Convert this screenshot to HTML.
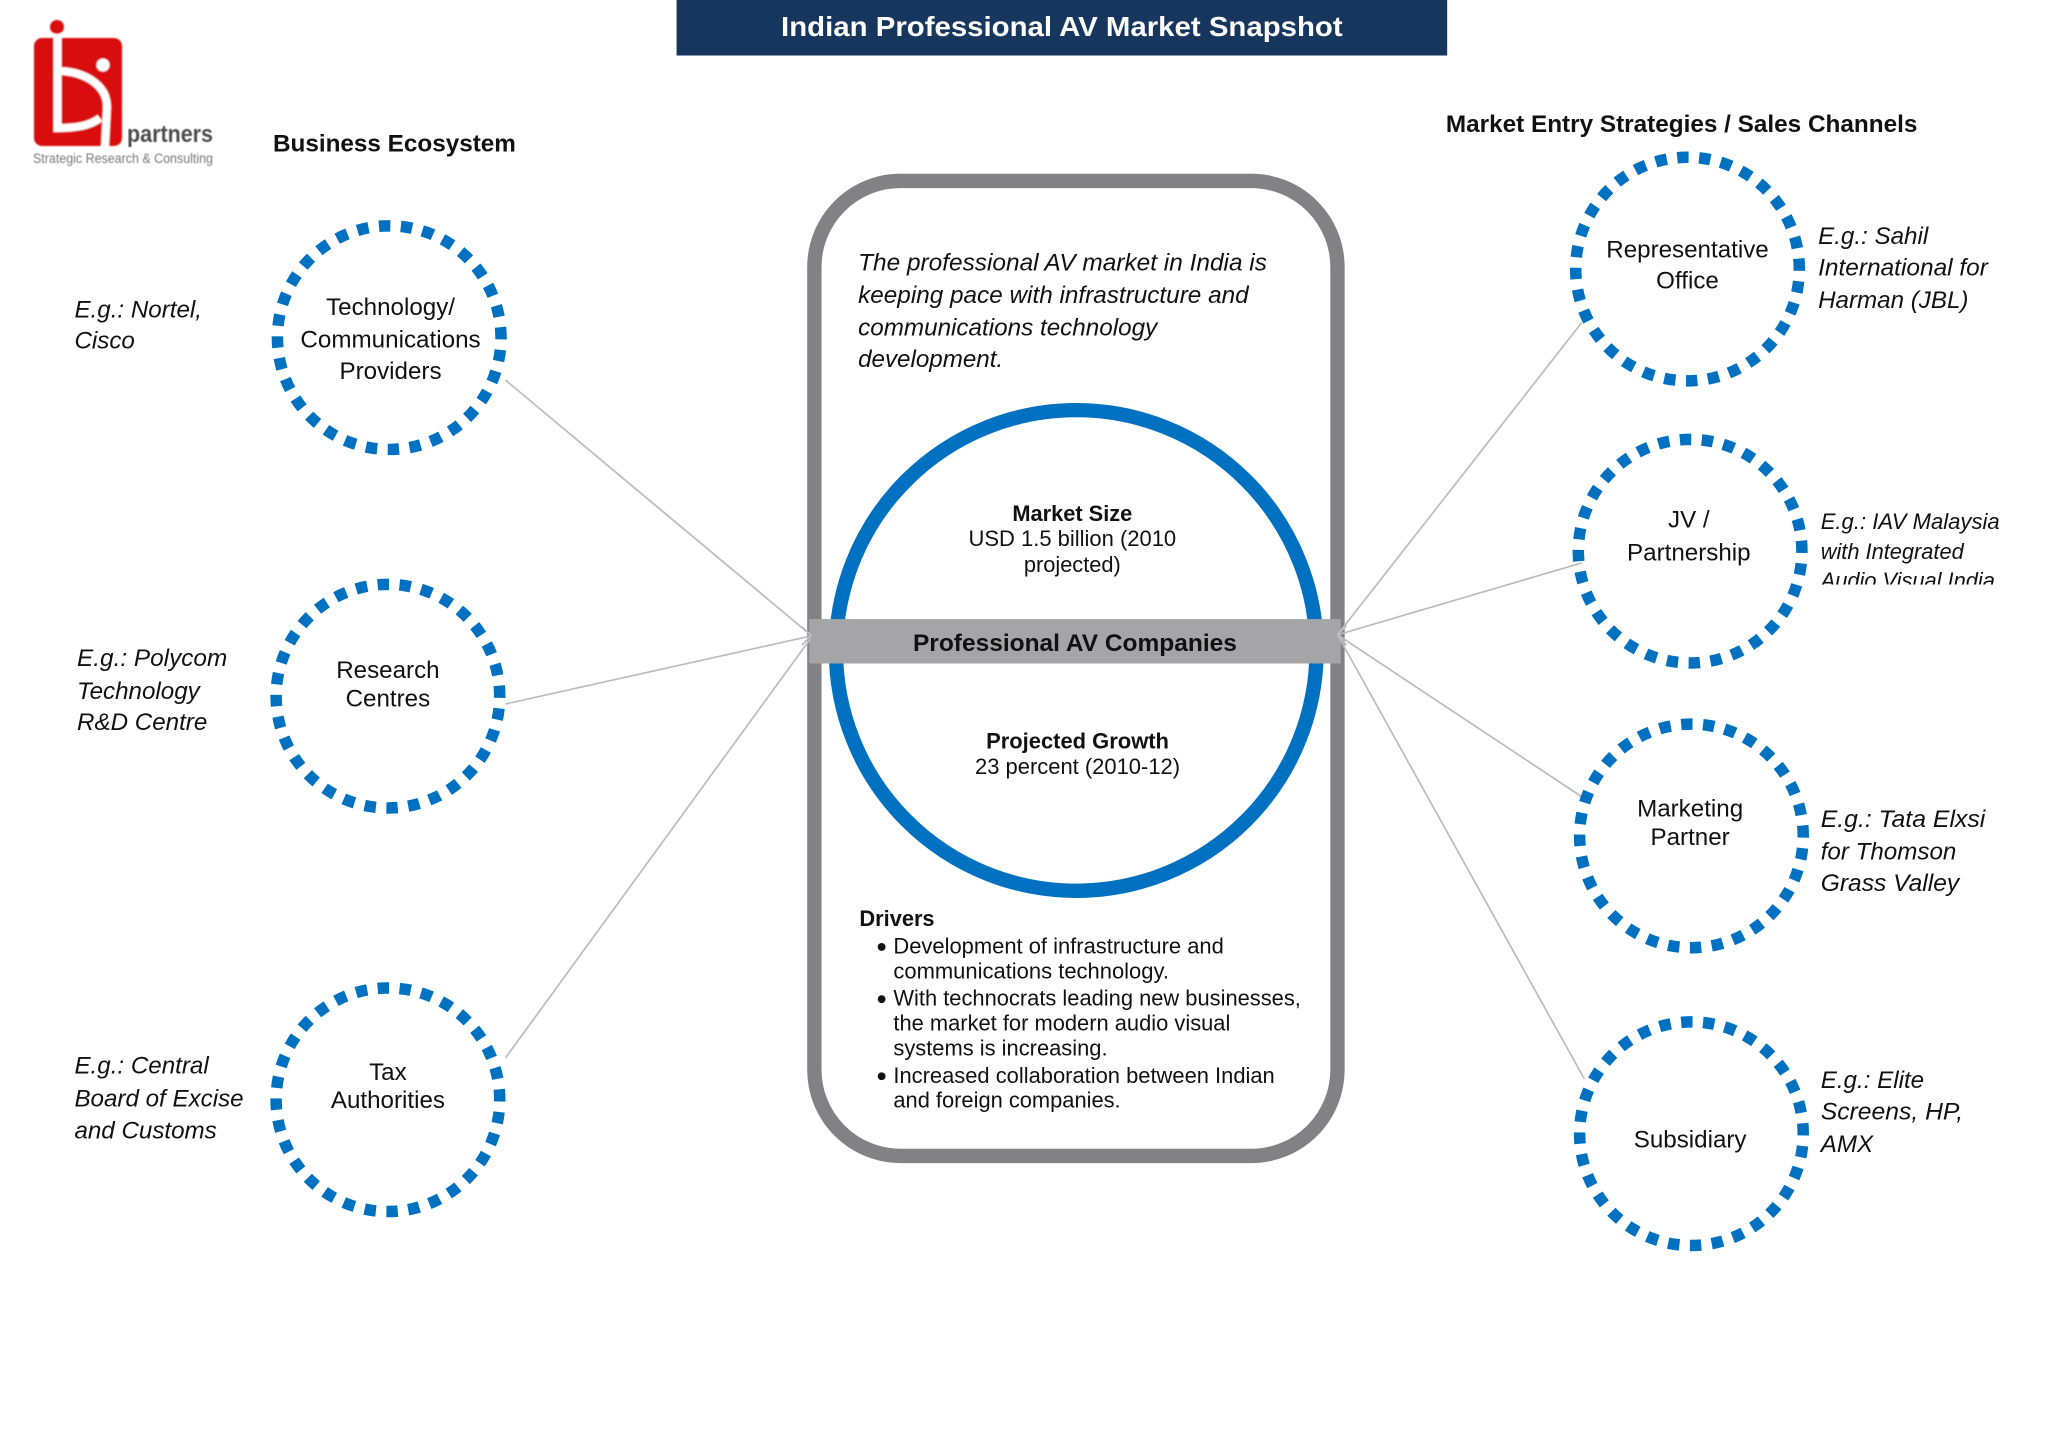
<!DOCTYPE html>
<html>
<head>
<meta charset="utf-8">
<title>Indian Professional AV Market Snapshot</title>
<style>
html,body{margin:0;padding:0;background:#fff;width:2048px;height:1448px;overflow:hidden}
svg{display:block}
text{font-family:"Liberation Sans",sans-serif;fill:#111}
.n{font-size:18.5px;text-anchor:middle}
.i{font-size:18.5px;font-style:italic}
.s{font-size:16.7px}
.m{font-size:16.7px;text-anchor:middle}
.b{font-weight:bold}
.d{fill:none;stroke:#0070c0;stroke-width:8.8;stroke-dasharray:.52 .48;stroke-dashoffset:.44}
.l{stroke:#bcbbbd;stroke-width:1.3;fill:none}
</style>
</head>
<body>
<svg width="2048" height="1448" viewBox="0 0 2048 1448" xmlns="http://www.w3.org/2000/svg">
<defs>
<filter id="bl" x="-5%" y="-5%" width="110%" height="110%"><feGaussianBlur stdDeviation="0.9"/></filter>
<filter id="bt" x="-5%" y="-20%" width="110%" height="140%"><feGaussianBlur stdDeviation="0.6"/></filter>
<clipPath id="cl"><rect x="1380" y="430" width="170" height="17.5"/></clipPath>
</defs>
<rect width="2048" height="1448" fill="#fff"/>

<!-- logo -->
<g filter="url(#bl)">
<rect x="34" y="38" width="88" height="108" rx="8" fill="#d90d0d"/>
<path d="M57.500 33V128C75 128 90 126 100 118" fill="none" stroke="#fff" stroke-width="8"/>
<path d="M60 71C85 72 107 85 107 107L105 147" fill="none" stroke="#fff" stroke-width="8"/>
<circle cx="57" cy="27" r="7" fill="#d90d0d"/>
<circle cx="103" cy="65" r="6.500" fill="#fff"/>
</g>
<text x="127" y="142" font-size="24" font-weight="bold" style="fill:#4d4d4d" textLength="86" lengthAdjust="spacingAndGlyphs" filter="url(#bt)">partners</text>
<text x="33" y="163" font-size="13.500" style="fill:#777" textLength="180" lengthAdjust="spacingAndGlyphs" filter="url(#bt)">Strategic Research &amp; Consulting</text>

<g transform="scale(1.30612)">
<!-- title -->
<rect x="518" y="0" width="590" height="42.500" fill="#17365d"/>
<text x="813" y="27.500" font-size="21.500" font-weight="bold" text-anchor="middle" style="fill:#fff" textLength="430" lengthAdjust="spacingAndGlyphs">Indian Professional AV Market Snapshot</text>

<text x="209" y="116" font-size="18.500" class="b" textLength="186" lengthAdjust="spacingAndGlyphs">Business Ecosystem</text>
<text x="1107" y="101" font-size="18.500" class="b" textLength="361" lengthAdjust="spacingAndGlyphs">Market Entry Strategies / Sales Channels</text>

<!-- central container -->
<rect x="623.500" y="138.500" width="400.500" height="746.500" rx="66" fill="#fff" stroke="#828184" stroke-width="11"/>
<circle cx="824" cy="498" r="184" fill="#fff" stroke="#0070c0" stroke-width="11"/>
<rect x="619.500" y="474" width="407" height="34" fill="#a5a4a6"/>

<!-- connectors -->
<path class="l" d="M387 291L620.500 486M387 539L620.500 487M387 810L620.500 489"/>
<path class="l" d="M614 480L621 486.500L614 494"/>
<path class="l" d="M1211 247L1024 486M1211 431L1024 486M1211 610L1024 486M1213 826L1024 486"/>
<path class="l" d="M1031 479L1024 486L1031 494"/>

<!-- dashed circles -->
<circle class="d" pathLength="32" cx="298" cy="258.500" r="85.600"/>
<circle class="d" pathLength="32" cx="297" cy="533" r="85.600"/>
<circle class="d" pathLength="32" cx="297" cy="842" r="85.600"/>
<circle class="d" pathLength="32" cx="1292" cy="206" r="85.600"/>
<circle class="d" pathLength="32" cx="1294" cy="422" r="85.600"/>
<circle class="d" pathLength="32" cx="1295" cy="640" r="85.600"/>
<circle class="d" pathLength="32" cx="1295" cy="868" r="85.600"/>

<!-- left labels -->
<text class="n" x="299" y="241">Technology/</text>
<text class="n" x="299" y="266" textLength="138" lengthAdjust="spacingAndGlyphs">Communications</text>
<text class="n" x="299" y="290">Providers</text>
<text class="n" x="297" y="519">Research</text>
<text class="n" x="297" y="541">Centres</text>
<text class="n" x="297" y="827">Tax</text>
<text class="n" x="297" y="848.500">Authorities</text>

<text class="i" x="57" y="243">E.g.: Nortel,</text>
<text class="i" x="57" y="267">Cisco</text>
<text class="i" x="59" y="510" textLength="115" lengthAdjust="spacingAndGlyphs">E.g.: Polycom</text>
<text class="i" x="59" y="535">Technology</text>
<text class="i" x="59" y="559">R&amp;D Centre</text>
<text class="i" x="57" y="822">E.g.: Central</text>
<text class="i" x="57" y="847">Board of Excise</text>
<text class="i" x="57" y="871.500">and Customs</text>

<!-- center text -->
<text class="i" x="657" y="207" textLength="313" lengthAdjust="spacingAndGlyphs">The professional AV market in India is</text>
<text class="i" x="657" y="232" textLength="299" lengthAdjust="spacingAndGlyphs">keeping pace with infrastructure and</text>
<text class="i" x="657" y="257" textLength="229" lengthAdjust="spacingAndGlyphs">communications technology</text>
<text class="i" x="657" y="281">development.</text>

<text class="m b" x="821" y="399">Market Size</text>
<text class="m" x="821" y="418" textLength="159" lengthAdjust="spacingAndGlyphs">USD 1.5 billion (2010</text>
<text class="m" x="821" y="438">projected)</text>

<text x="823" y="498.500" font-size="18.500" class="b" text-anchor="middle" textLength="248" lengthAdjust="spacingAndGlyphs">Professional AV Companies</text>

<text class="m b" x="825" y="573" textLength="140" lengthAdjust="spacingAndGlyphs">Projected Growth</text>
<text class="m" x="825" y="592.500" textLength="157" lengthAdjust="spacingAndGlyphs">23 percent (2010-12)</text>

<text class="s b" x="658" y="709">Drivers</text>
<circle cx="675" cy="725" r="3" fill="#111"/>
<circle cx="675" cy="765" r="3" fill="#111"/>
<circle cx="675" cy="824" r="3" fill="#111"/>
<text class="s" x="684" y="730" textLength="253" lengthAdjust="spacingAndGlyphs">Development of infrastructure and</text>
<text class="s" x="684" y="749" textLength="211" lengthAdjust="spacingAndGlyphs">communications technology.</text>
<text class="s" x="684" y="770" textLength="312" lengthAdjust="spacingAndGlyphs">With technocrats leading new businesses,</text>
<text class="s" x="684" y="789" textLength="258" lengthAdjust="spacingAndGlyphs">the market for modern audio visual</text>
<text class="s" x="684" y="808" textLength="164" lengthAdjust="spacingAndGlyphs">systems is increasing.</text>
<text class="s" x="684" y="829" textLength="292" lengthAdjust="spacingAndGlyphs">Increased collaboration between Indian</text>
<text class="s" x="684" y="848" textLength="174" lengthAdjust="spacingAndGlyphs">and foreign companies.</text>

<!-- right labels -->
<text class="n" x="1292" y="197">Representative</text>
<text class="n" x="1292" y="221">Office</text>
<text class="n" x="1293" y="404">JV /</text>
<text class="n" x="1293" y="429">Partnership</text>
<text class="n" x="1294" y="625">Marketing</text>
<text class="n" x="1294" y="647">Partner</text>
<text class="n" x="1294" y="878.500">Subsidiary</text>

<text class="i" x="1392" y="187">E.g.: Sahil</text>
<text class="i" x="1392" y="211" textLength="130" lengthAdjust="spacingAndGlyphs">International for</text>
<text class="i" x="1392" y="236">Harman (JBL)</text>
<text x="1394" y="405" font-size="16.700" font-style="italic" textLength="137" lengthAdjust="spacingAndGlyphs">E.g.: IAV Malaysia</text>
<text x="1394" y="428" font-size="16.700" font-style="italic">with Integrated</text>
<text x="1394" y="450" font-size="16.700" font-style="italic" clip-path="url(#cl)">Audio Visual India</text>
<text class="i" x="1394" y="633" textLength="126" lengthAdjust="spacingAndGlyphs">E.g.: Tata Elxsi</text>
<text class="i" x="1394" y="658">for Thomson</text>
<text class="i" x="1394" y="682" textLength="106" lengthAdjust="spacingAndGlyphs">Grass Valley</text>
<text class="i" x="1394" y="833">E.g.: Elite</text>
<text class="i" x="1394" y="857" textLength="109" lengthAdjust="spacingAndGlyphs">Screens, HP,</text>
<text class="i" x="1394" y="882">AMX</text>
</g>
</svg>
</body>
</html>
